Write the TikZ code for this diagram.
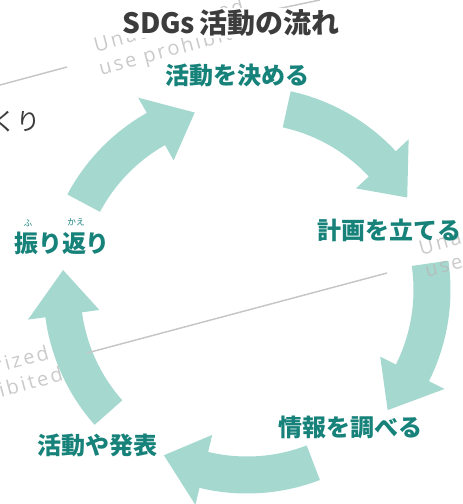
\documentclass[tikz,border=0pt]{standalone}
\usepackage{fontspec}
\usepackage{tikz}
\newfontfamily\jpfont{Noto Sans CJK JP}
\newfontfamily\wmfont[LetterSpace=12]{Open Sans}

\definecolor{flowgreen}{HTML}{A5D9CF}
\definecolor{stepteal}{HTML}{16827A}
\definecolor{titlegray}{HTML}{3C3C3C}
\definecolor{markgray}{HTML}{B8B8B8}

% one thick curved arrow of the cycle: tail angle, head base angle, tip angle
\newcommand{\flowarrow}[3]{%
  \fill[flowgreen] (#1:203.5) arc[start angle=#1, end angle=#2, radius=203.5]
    -- (#2:221) -- (#3:185) -- (#2:149) -- (#2:166.5)
    arc[start angle=#2, end angle=#1, radius=166.5] -- cycle;}
% watermark text, tilted
\newcommand{\wmtext}[1]{\rotatebox{15}{#1}}

\tikzset{
  steplabel/.style={font=\jpfont\bfseries\fontsize{18}{20}\selectfont, text=stepteal, inner sep=0pt},
  rubylabel/.style={font=\jpfont\fontsize{6.5}{7}\selectfont, text=stepteal, inner sep=0pt},
  wmark/.style={font=\wmfont\fontsize{15}{15}\selectfont, text=markgray, anchor=base west, inner sep=0pt, opacity=0.75},
  wline/.style={draw=markgray!80, line width=1.1pt}
}

\begin{document}
\begin{tikzpicture}[x=0.75pt,y=0.75pt,yscale=-1,xscale=1]
\useasboundingbox (0,0) rectangle (463,504);
\clip (0,0) rectangle (463,504);

%Shape: cycle arrows
\begin{scope}[shift={(247,290)}]
\flowarrow{-77.6}{-43}{-30}
\flowarrow{-8.3}{26.6}{40.5}
\flowarrow{69}{103.5}{116.7}
\flowarrow{138.5}{172.3}{186.2}
\flowarrow{208}{240.5}{253.6}
\end{scope}

%Straight Lines
\draw[wline] (0,85) -- (67,67);
\draw[wline] (272,10) -- (320,0);
\draw[wline] (387,273) -- (87,353);

% Text Node
\node[wmark] (wm1a) at (92,52) {\wmtext{Unauthorized}};
\node[wmark] (wm1b) at (97,75) {\wmtext{use prohibited}};
\node[wmark] (wm2a) at (417,255) {\wmtext{Unauthorized}};
\node[wmark] (wm2b) at (423,277) {\wmtext{use prohibited}};
\node[wmark] (wm3a) at (-103,399) {\wmtext{Unauthorized}};
\node[wmark] (wm3b) at (-99,423) {\wmtext{use prohibited}};

% Text Node
\node[fill=white, inner sep=1pt, text=titlegray, font=\jpfont\bfseries\fontsize{21}{23}\selectfont] (title) at (231,23) {SDGs\,活動の流れ};
% Text Node
\node[anchor=east, inner sep=0pt, text=titlegray, font=\jpfont\fontsize{18}{20}\selectfont] (cut) at (41,122) {くり};

% Text Node
\node[steplabel] (decide) at (237.5,75) {活動を決める};
\node[steplabel] (plan) at (389.5,230) {計画を立てる};
\node[steplabel] (research) at (350,427) {情報を調べる};
\node[steplabel] (present) at (97.5,445) {活動や発表};
\node[steplabel] (review) at (62,243) {振り返り};
\node[rubylabel] (rubyfu) at (28,223) {ふ};
\node[rubylabel] (rubykae) at (76,222) {かえ};

\end{tikzpicture}
\end{document}
